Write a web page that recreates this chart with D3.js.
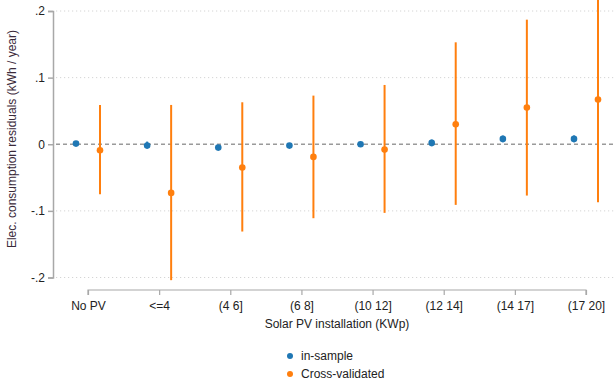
<!DOCTYPE html>
<html>
<head>
<meta charset="utf-8">
<script src="https://cdn.jsdelivr.net/npm/d3@7"></script>
<style>
  body { margin: 0; background: #fff; }
  svg { display: block; font-family: "Liberation Sans", Arial, sans-serif; }
</style>
</head>
<body>
<svg id="chart" width="616" height="380"></svg>
<script>
// Installation size bins
const categories = ["No PV", "<=4", "(4 6]", "(6 8]", "(10 12]", "(12 14]", "(14 17]", "(17 20]"];

// In-sample residual estimates with confidence bounds
const inSample      = [0.001, -0.002, -0.005, -0.002, 0.000, 0.002, 0.008, 0.008];
const inSampleLow   = [-0.001, -0.006, -0.008, -0.004, -0.002, -0.003, 0.003, 0.003];
const inSampleHigh  = [0.003, 0.004, -0.002, 0.000, 0.002, 0.007, 0.013, 0.013];

// Cross-validated residual estimates with confidence bounds
const crossVal      = [-0.009, -0.073, -0.035, -0.019, -0.008, 0.030, 0.055, 0.067];
const crossValLow   = [-0.075, -0.204, -0.131, -0.111, -0.103, -0.091, -0.077, -0.087];
const crossValHigh  = [0.059, 0.059, 0.063, 0.073, 0.089, 0.153, 0.187, 0.221];

const yTicks = [0.2, 0.1, 0, -0.1, -0.2];
const yTickLabels = [".2", ".1", "0", "-.1", "-.2"];

const seriesNames = ["in-sample", "Cross-validated"];
const colors = ["#1f77b4", "#ff7f0e"];

const svg = d3.select("#chart");
const FONT = "'Liberation Sans', Arial, sans-serif";

const x = d3.scalePoint().domain(categories).range([88, 586]);
const y = d3.scaleLinear().domain([-0.2, 0.2]).range([277.5, 11]);
const offset = 12;

// gridlines
svg.append("g").selectAll("line")
  .data(yTicks.filter(d => d !== 0))
  .join("line")
  .attr("x1", 56).attr("x2", 616)
  .attr("y1", d => y(d)).attr("y2", d => y(d))
  .attr("stroke", "#d4d4d4").attr("stroke-width", 1)
  .attr("stroke-dasharray", "1.2 2.8");

// zero reference line
svg.append("line")
  .attr("x1", 56).attr("x2", 616)
  .attr("y1", y(0)).attr("y2", y(0))
  .attr("stroke", "#9a9a9a").attr("stroke-width", 1.3)
  .attr("stroke-dasharray", "4 3");

// y axis
const yAxis = d3.axisLeft(y).tickValues(yTicks)
  .tickFormat((d, i) => yTickLabels[i]).tickSize(5).tickPadding(3);
const gy = svg.append("g").attr("transform", "translate(53,0)").call(yAxis);
gy.select(".domain").attr("stroke", "#a8a8a8").attr("stroke-width", 1.5);
gy.selectAll(".tick line").attr("stroke", "#a8a8a8").attr("stroke-width", 1.5);
gy.selectAll(".tick text").attr("fill", "#222").style("font-size", "12px")
  .style("font-family", FONT);

// x axis
const xAxis = d3.axisBottom(x).tickSize(5).tickPadding(6).tickSizeOuter(0);
const gx = svg.append("g").attr("transform", "translate(0,290)").call(xAxis);
gx.select(".domain").attr("stroke", "#a8a8a8").attr("stroke-width", 1.2)
  .attr("d", `M${x.range()[0]},5V0H${x.range()[1]}V5`);
gx.selectAll(".tick line").attr("stroke", "#a8a8a8").attr("stroke-width", 1.2);
gx.selectAll(".tick text").attr("fill", "#222").style("font-size", "12px")
  .style("font-family", FONT);

// axis titles
svg.append("text")
  .attr("x", 337).attr("y", 328)
  .attr("text-anchor", "middle")
  .attr("fill", "#222").style("font-size", "12px")
  .text("Solar PV installation (KWp)");

svg.append("text")
  .attr("transform", "translate(16,139) rotate(-90)")
  .attr("text-anchor", "middle")
  .attr("fill", "#3a2a3a").style("font-size", "12px")
  .text("Elec. consumption residuals (kWh / year)");

// series marks
const series = [
  { vals: inSample, lo: inSampleLow, hi: inSampleHigh, dx: -offset, color: colors[0] },
  { vals: crossVal, lo: crossValLow, hi: crossValHigh, dx: offset, color: colors[1] }
];

series.forEach(s => {
  const g = svg.append("g");
  g.selectAll("line")
    .data(categories)
    .join("line")
    .attr("x1", d => x(d) + s.dx).attr("x2", d => x(d) + s.dx)
    .attr("y1", (d, i) => y(s.lo[i])).attr("y2", (d, i) => y(s.hi[i]))
    .attr("stroke", s.color).attr("stroke-width", 2);
  g.selectAll("circle")
    .data(categories)
    .join("circle")
    .attr("cx", d => x(d) + s.dx)
    .attr("cy", (d, i) => y(s.vals[i]))
    .attr("r", 3.3)
    .attr("fill", s.color);
});

// legend
const legend = svg.append("g");
seriesNames.forEach((name, i) => {
  legend.append("circle")
    .attr("cx", 290).attr("cy", 356 + i * 18).attr("r", 3)
    .attr("fill", colors[i]);
  legend.append("text")
    .attr("x", 301).attr("y", 360 + i * 18)
    .attr("fill", "#222").style("font-size", "12px")
    .text(name);
});
</script>
</body>
</html>
